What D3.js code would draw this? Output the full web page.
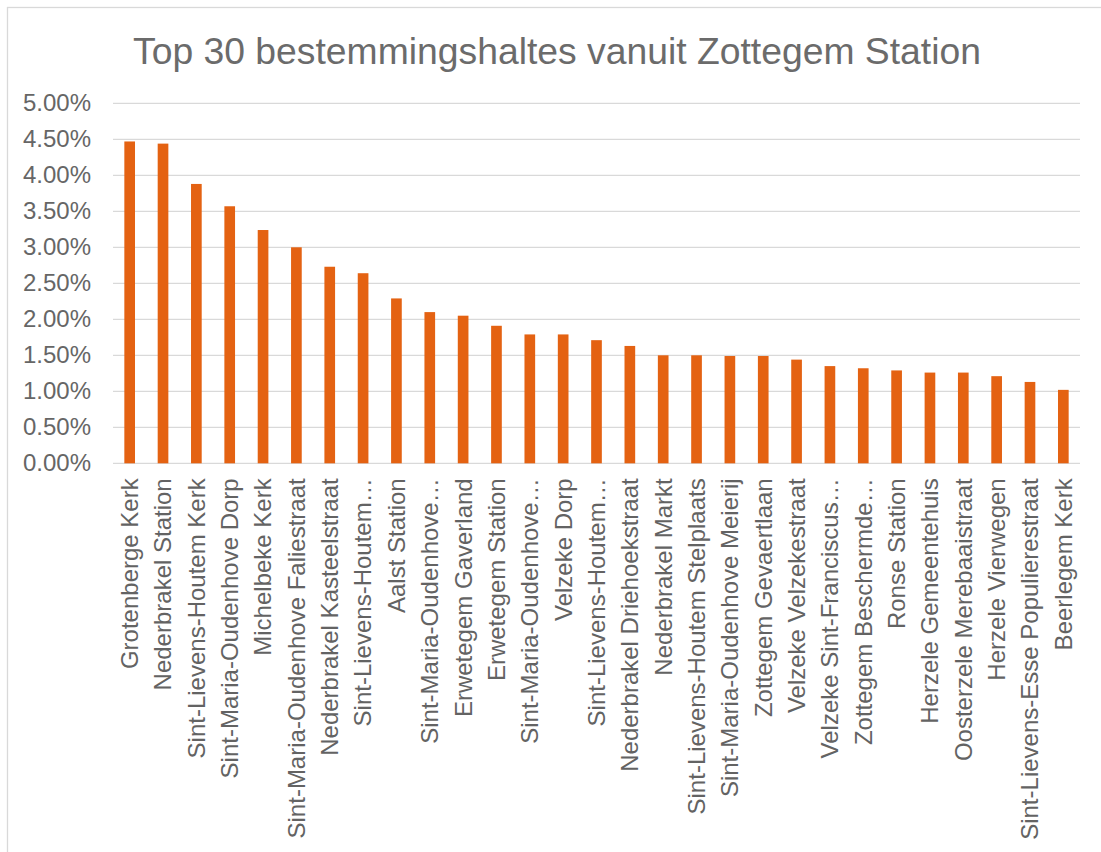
<!DOCTYPE html>
<html>
<head>
<meta charset="utf-8">
<script src="https://cdn.jsdelivr.net/npm/d3@7"></script>
<style>
  body { margin: 0; background: #fff; }
  svg text { font-family: "Liberation Sans", Arial, sans-serif; fill: #666; }
</style>
</head>
<body>
<svg id="chart" width="1101" height="852"></svg>
<script>
// bestemmingshaltes (as shown on the axis, truncated ones included)
const stops = [
  "Grotenberge Kerk", "Nederbrakel Station", "Sint-Lievens-Houtem Kerk",
  "Sint-Maria-Oudenhove Dorp", "Michelbeke Kerk", "Sint-Maria-Oudenhove Faliestraat",
  "Nederbrakel Kasteelstraat", "Sint-Lievens-Houtem…", "Aalst Station",
  "Sint-Maria-Oudenhove…", "Erwetegem Gaverland", "Erwetegem Station",
  "Sint-Maria-Oudenhove…", "Velzeke Dorp", "Sint-Lievens-Houtem…",
  "Nederbrakel Driehoekstraat", "Nederbrakel Markt", "Sint-Lievens-Houtem Stelplaats",
  "Sint-Maria-Oudenhove Meierij", "Zottegem Gevaertlaan", "Velzeke Velzekestraat",
  "Velzeke Sint-Franciscus…", "Zottegem Beschermde…", "Ronse Station",
  "Herzele Gemeentehuis", "Oosterzele Merebaaistraat", "Herzele Vierwegen",
  "Sint-Lievens-Esse Populierestraat", "Beerlegem Kerk"
];
// share of trips, fraction
const shares = [
  0.0447, 0.0444, 0.0388, 0.0357, 0.0324, 0.0300, 0.0273, 0.0264, 0.0229,
  0.0210, 0.0205, 0.0191, 0.0179, 0.0179, 0.0171, 0.0163, 0.0150, 0.0150,
  0.0149, 0.0149, 0.0144, 0.0135, 0.0132, 0.0129, 0.0126, 0.0126, 0.0121,
  0.0113, 0.0102
];
const yTicks = [0, 0.005, 0.01, 0.015, 0.02, 0.025, 0.03, 0.035, 0.04, 0.045, 0.05];
const title = "Top 30 bestemmingshaltes vanuit Zottegem Station";

const svg = d3.select("#chart");
const plotLeft = 113, plotRight = 1080, plotTop = 103.3, plotBottom = 463.3;

// chart border
svg.append("rect")
  .attr("x", 7.5).attr("y", 7.5)
  .attr("width", 1110).attr("height", 870)
  .attr("fill", "none").attr("stroke", "#d9d9d9").attr("stroke-width", 1.3);

const x = d3.scaleBand().domain(d3.range(stops.length))
  .range([plotLeft, plotRight]).paddingInner(0.68).paddingOuter(0.34);
const y = d3.scaleLinear().domain([0, 0.05]).range([plotBottom, plotTop]);

// gridlines
svg.append("g").selectAll("line").data(yTicks).join("line")
  .attr("x1", plotLeft).attr("x2", plotRight)
  .attr("y1", d => y(d)).attr("y2", d => y(d))
  .attr("stroke", "#d9d9d9").attr("stroke-width", 1.3);

// y labels
const yAxis = svg.append("g").attr("transform", `translate(${plotLeft - 22},0)`)
  .call(d3.axisLeft(y).tickValues(yTicks).tickFormat(d3.format(".2%")).tickSize(0).tickPadding(0));
yAxis.select(".domain").remove();
yAxis.selectAll("text").style("font-size", "24px").attr("fill", "#636363");

// bars
svg.append("g").selectAll("rect").data(shares).join("rect")
  .attr("x", (d, i) => x(i))
  .attr("y", d => y(d))
  .attr("width", x.bandwidth())
  .attr("height", d => plotBottom - y(d))
  .attr("fill", "#e46212");

// x labels
svg.append("g").selectAll("text").data(stops).join("text")
  .attr("transform", (d, i) => `translate(${x(i) + x.bandwidth() / 2},${plotBottom + 15}) rotate(-90)`)
  .attr("text-anchor", "end")
  .attr("dy", "0.35em")
  .style("font-size", "24px")
  .style("fill", "#636363")
  .text(d => d);

// title
svg.append("text")
  .attr("x", 557).attr("y", 64)
  .attr("text-anchor", "middle")
  .style("font-size", "37.3px")
  .style("fill", "#6b6b6b")
  .text(title);
</script>
</body>
</html>
